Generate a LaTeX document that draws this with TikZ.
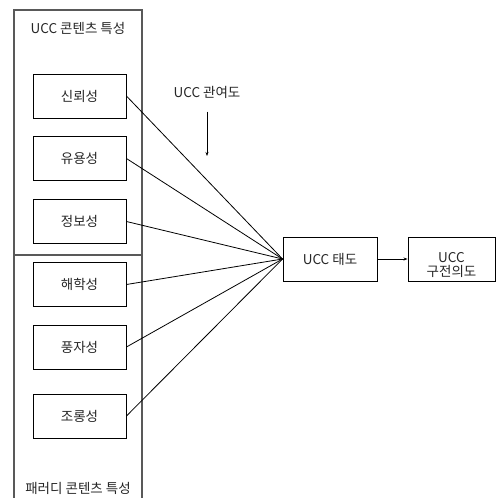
\documentclass[tikz,border=0pt]{standalone}
\usepackage{fontspec}
\usepackage{tikz}
\usetikzlibrary{arrows.meta, positioning}
\newfontfamily\kr{Noto Sans CJK KR}

\begin{document}
\begin{tikzpicture}[
    x=1pt, y=-1pt,
    txt/.style={font=\kr\fontsize{13.5}{16}\selectfont, text=black!85},
    box/.style={txt, draw, line width=0.9pt, minimum width=93pt, minimum height=44pt, align=center, inner sep=0pt},
    frame/.style={draw=black!65, line width=1.1pt},
    arrow/.style={-{Stealth[length=4pt, width=3pt]}, line width=0.8pt},
    link/.style={line width=0.8pt}
]
\useasboundingbox (0,0) rectangle (496,498);

% outer frame
\draw[frame] (14,499) -- (14,10) -- (142,10) -- (142,499);
\draw[frame] (14,255) -- (142,255);

\node[txt] (ucchead)  at (78,28)  {UCC 콘텐츠 특성};
\node[txt] (parohead) at (78,488) {패러디 콘텐츠 특성};

\node[box] (trust)  at (79.5,96)    {신뢰성};
\node[box] (useful) at (79.5,158.5) {유용성};
\node[box] (inform) at (79.5,221.5) {정보성};
\node[box] (humor)  at (79.5,284.5) {해학성};
\node[box] (satire) at (79.5,347)   {풍자성};
\node[box] (mock)   at (79.5,416)   {조롱성};

\node[box, minimum width=94pt] (attit) at (330,259) {UCC 태도};
\node[box, minimum width=87pt, text height=0pt, text depth=0pt] (intent) at (451.5,259)
    {\raisebox{-17pt}{\shortstack{UCC\\[-1pt]구전의도}}};

\node[txt] (involve) at (207,92) {UCC 관여도};
\coordinate (invtip) at (207,156);

% moderator
\draw[arrow, shorten <=10pt] (involve.south) -- (invtip);

% links into attitude
\foreach \src in {trust, useful, inform, humor, satire, mock}
    \draw[link] (\src.east) -- (attit.west);

\draw[arrow] (attit) -- (intent);
\end{tikzpicture}
\end{document}
